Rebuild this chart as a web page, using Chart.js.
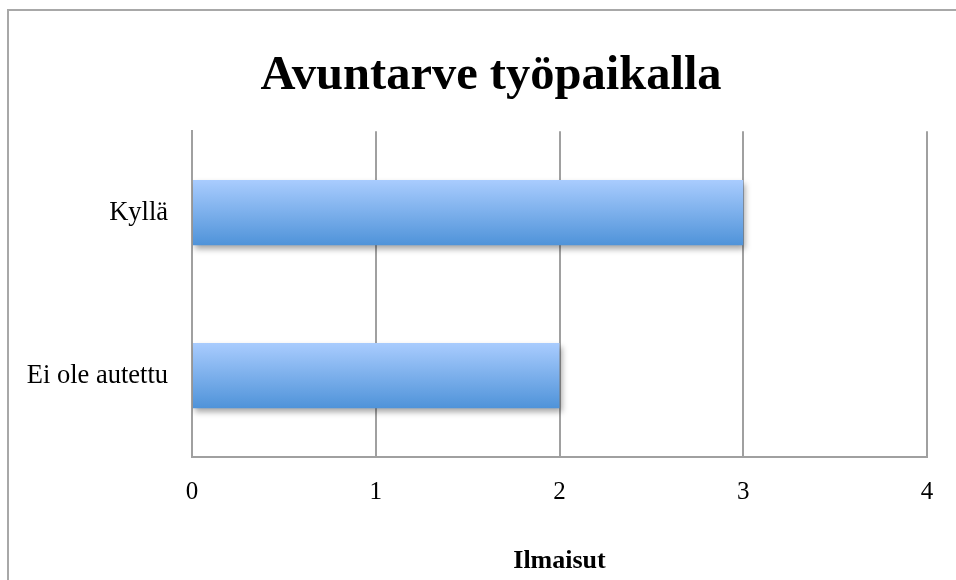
<!DOCTYPE html>
<html>
<head>
<meta charset="utf-8">
<script src="https://cdn.jsdelivr.net/npm/chart.js@4/dist/chart.umd.min.js"></script>
<style>
  html, body { margin: 0; padding: 0; background: #fff; overflow: hidden; width: 956px; height: 580px; }
  #frame { position: absolute; left: 7px; top: 9px; width: 964px; height: 600px; border: 2px solid #a8a8a8; background: #fff; }
  #c { position: absolute; left: 0; top: 0; }
</style>
</head>
<body>
<div id="frame"><canvas id="c" width="964" height="600"></canvas></div>
<script>
const categories = ['Kyllä', 'Ei ole autettu'];
const values = [3, 2];
const xTicks = [0, 1, 2, 3, 4];
const chartTitle = 'Avuntarve työpaikalla';
const xAxisTitle = 'Ilmaisut';

const FONT = '"Liberation Serif", "Times New Roman", serif';

function barGradient(ctx) {
  const chart = ctx.chart;
  const yScale = chart.scales && chart.scales.y;
  if (!yScale || !chart.chartArea) return '#7aaee8';
  const center = yScale.getPixelForValue(ctx.dataIndex);
  const half = (yScale.height / categories.length) * 0.4 / 2;
  const g = chart.ctx.createLinearGradient(0, center - half, 0, center + half);
  g.addColorStop(0, '#a9ccfe');
  g.addColorStop(1, '#4f93d9');
  return g;
}

const shadowPlugin = {
  id: 'barShadow',
  beforeDatasetsDraw(chart) {
    const c = chart.ctx;
    c.save();
    c.shadowColor = 'rgba(0,0,0,0.35)';
    c.shadowBlur = 6;
    c.shadowOffsetX = 2;
    c.shadowOffsetY = 4;
  },
  afterDatasetsDraw(chart) {
    chart.ctx.restore();
  }
};

// centre the chart title on the whole chart box (as in the original)
const titleSpanPlugin = {
  id: 'titleSpan',
  afterLayout(chart) {
    if (chart.titleBlock) {
      chart.titleBlock.left = 0;
      chart.titleBlock.right = chart.width;
      chart.titleBlock.width = chart.width;
    }
  }
};

new Chart(document.getElementById('c'), {
  type: 'bar',
  data: {
    labels: categories,
    datasets: [{
      data: values,
      backgroundColor: barGradient,
      borderWidth: 0,
      categoryPercentage: 1,
      barPercentage: 0.4
    }]
  },
  plugins: [shadowPlugin, titleSpanPlugin],
  options: {
    indexAxis: 'y',
    responsive: false,
    animation: false,
    layout: { padding: { left: 0, right: 46, top: 0, bottom: 30 } },
    plugins: {
      legend: { display: false },
      tooltip: { enabled: false },
      title: {
        display: true,
        text: chartTitle,
        color: '#000',
        font: { family: FONT, size: 48.5, weight: 'bold' },
        padding: { top: 36, bottom: 26 }
      }
    },
    scales: {
      x: {
        min: 0,
        max: 4,
        afterBuildTicks(scale) { scale.ticks = xTicks.map(v => ({ value: v })); },
        afterFit(scale) { scale.height = 124; scale.paddingLeft = 0; scale.paddingRight = 0; },
        ticks: {
          color: '#000',
          font: { family: FONT, size: 25 },
          padding: 20
        },
        grid: { display: true, color: '#a0a0a0', lineWidth: 2, drawTicks: false },
        border: { display: true, color: '#a0a0a0', width: 2 },
        title: {
          display: true,
          text: xAxisTitle,
          color: '#000',
          font: { family: FONT, size: 26, weight: 'bold' },
          padding: { top: 4, bottom: 4 }
        }
      },
      y: {
        afterFit(scale) { scale.width = 183; },
        ticks: {
          color: '#000',
          font: { family: FONT, size: 26.5 },
          padding: 24
        },
        grid: { display: false, drawTicks: false },
        border: { display: true, color: '#a0a0a0', width: 2 }
      }
    }
  }
});
</script>
</body>
</html>
